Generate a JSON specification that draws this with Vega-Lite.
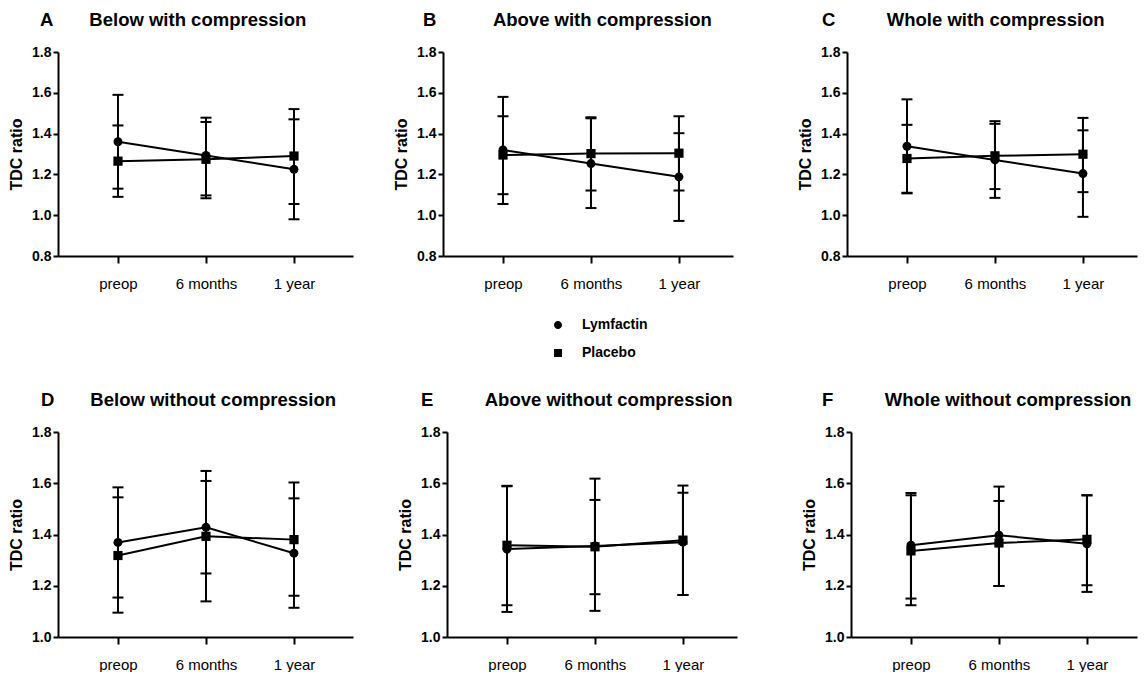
{
  "$schema": "https://vega.github.io/schema/vega-lite/v6.json",
  "background": "white",
  "padding": {"left": 8, "top": 10, "right": 3, "bottom": 0},
  "data": {"values": [
    {"panel":"A","series":"Lymfactin","time":"preop","mean":1.36,"lo":1.13,"hi":1.59},
    {"panel":"A","series":"Lymfactin","time":"6 months","mean":1.293,"lo":1.097,"hi":1.478},
    {"panel":"A","series":"Lymfactin","time":"1 year","mean":1.225,"lo":0.98,"hi":1.47},
    {"panel":"A","series":"Placebo","time":"preop","mean":1.265,"lo":1.09,"hi":1.44},
    {"panel":"A","series":"Placebo","time":"6 months","mean":1.274,"lo":1.083,"hi":1.457},
    {"panel":"A","series":"Placebo","time":"1 year","mean":1.29,"lo":1.055,"hi":1.52},
    {"panel":"B","series":"Lymfactin","time":"preop","mean":1.32,"lo":1.055,"hi":1.58},
    {"panel":"B","series":"Lymfactin","time":"6 months","mean":1.253,"lo":1.035,"hi":1.475},
    {"panel":"B","series":"Lymfactin","time":"1 year","mean":1.188,"lo":0.972,"hi":1.402},
    {"panel":"B","series":"Placebo","time":"preop","mean":1.295,"lo":1.103,"hi":1.485},
    {"panel":"B","series":"Placebo","time":"6 months","mean":1.302,"lo":1.121,"hi":1.48},
    {"panel":"B","series":"Placebo","time":"1 year","mean":1.304,"lo":1.121,"hi":1.485},
    {"panel":"C","series":"Lymfactin","time":"preop","mean":1.338,"lo":1.107,"hi":1.568},
    {"panel":"C","series":"Lymfactin","time":"6 months","mean":1.271,"lo":1.085,"hi":1.461},
    {"panel":"C","series":"Lymfactin","time":"1 year","mean":1.204,"lo":0.992,"hi":1.416},
    {"panel":"C","series":"Placebo","time":"preop","mean":1.278,"lo":1.11,"hi":1.443},
    {"panel":"C","series":"Placebo","time":"6 months","mean":1.291,"lo":1.128,"hi":1.448},
    {"panel":"C","series":"Placebo","time":"1 year","mean":1.299,"lo":1.113,"hi":1.477},
    {"panel":"D","series":"Lymfactin","time":"preop","mean":1.369,"lo":1.154,"hi":1.584},
    {"panel":"D","series":"Lymfactin","time":"6 months","mean":1.428,"lo":1.248,"hi":1.609},
    {"panel":"D","series":"Lymfactin","time":"1 year","mean":1.327,"lo":1.114,"hi":1.541},
    {"panel":"D","series":"Placebo","time":"preop","mean":1.318,"lo":1.095,"hi":1.545},
    {"panel":"D","series":"Placebo","time":"6 months","mean":1.393,"lo":1.139,"hi":1.648},
    {"panel":"D","series":"Placebo","time":"1 year","mean":1.38,"lo":1.161,"hi":1.603},
    {"panel":"E","series":"Lymfactin","time":"preop","mean":1.343,"lo":1.098,"hi":1.588},
    {"panel":"E","series":"Lymfactin","time":"6 months","mean":1.355,"lo":1.102,"hi":1.618},
    {"panel":"E","series":"Lymfactin","time":"1 year","mean":1.37,"lo":1.164,"hi":1.563},
    {"panel":"E","series":"Placebo","time":"preop","mean":1.358,"lo":1.124,"hi":1.59},
    {"panel":"E","series":"Placebo","time":"6 months","mean":1.352,"lo":1.167,"hi":1.535},
    {"panel":"E","series":"Placebo","time":"1 year","mean":1.378,"lo":1.164,"hi":1.591},
    {"panel":"F","series":"Lymfactin","time":"preop","mean":1.358,"lo":1.15,"hi":1.562},
    {"panel":"F","series":"Lymfactin","time":"6 months","mean":1.397,"lo":1.199,"hi":1.587},
    {"panel":"F","series":"Lymfactin","time":"1 year","mean":1.364,"lo":1.176,"hi":1.553},
    {"panel":"F","series":"Placebo","time":"preop","mean":1.336,"lo":1.124,"hi":1.553},
    {"panel":"F","series":"Placebo","time":"6 months","mean":1.367,"lo":1.199,"hi":1.531},
    {"panel":"F","series":"Placebo","time":"1 year","mean":1.381,"lo":1.202,"hi":1.553}
  ]},
  "config": {
    "view": {"stroke": null},
    "font": "Liberation Sans",
    "axis": {"grid": false, "domainColor": "black", "domainWidth": 2, "tickColor": "black", "tickWidth": 2, "labelColor": "black", "titleColor": "black", "labelFont": "Liberation Sans", "titleFont": "Liberation Sans"},
    "axisY": {"labelFontSize": 14, "labelFontWeight": "bold", "tickSize": 5, "labelPadding": 2, "titleFontSize": 16, "titleFontWeight": "bold", "titlePadding": 7},
    "axisX": {"labelFontSize": 15, "tickSize": 7, "labelPadding": 13, "labelAngle": 0},
    "title": {"fontSize": 18.5, "fontWeight": "bold", "anchor": "start", "frame": "group", "color": "black", "offset": 16, "font": "Liberation Sans"},
    "legend": {"labelFont": "Liberation Sans"}
  },
  "spacing": 99,
  "vconcat": [
    {"spacing": 40, "hconcat": [
      {"title": {"text": "A\u00a0\u00a0\u00a0\u00a0\u00a0\u00a0\u00a0Below with compression", "dx": -18},
       "width": 295, "height": 204,
       "transform": [{"filter": "datum.panel === 'A'"}],
       "encoding": {"x": {"field": "time", "type": "ordinal", "sort": ["preop","6 months","1 year"], "scale": {"type": "point", "padding": 0.676, "align": 0.504}, "axis": {"title": null}}},
       "layer": [
        {"transform": [{"filter": "false"}], "mark": {"type": "point", "filled": false, "fill": "black", "stroke": "black", "strokeWidth": 2, "opacity": 1, "size": 400}, "encoding": {"y": {"field": "mean", "type": "quantitative", "scale": {"domain": [0.8, 1.8]}, "axis": {"title": "TDC ratio", "values": [0.8,1.0,1.2,1.4,1.6,1.8], "format": ".1f"}}, "shape": {"field": "series", "type": "nominal", "scale": {"domain": ["Lymfactin","Placebo"], "range": ["M-1,0L1,0M-0.4,0A0.4,0.4 0 1,0 0.4,0A0.4,0.4 0 1,0 -0.4,0Z", "M-1,0L1,0M-0.4,-0.4L0.4,-0.4L0.4,0.4L-0.4,0.4Z"]}, "legend": {"title": null, "orient": "none", "legendX": 489, "legendY": 262, "labelFontSize": 14, "labelFontWeight": "bold", "labelColor": "black", "labelOffset": 13, "rowPadding": 9, "symbolSize": 400, "symbolStrokeWidth": 2, "symbolOpacity": 1, "symbolFillColor": "black", "symbolStrokeColor": "black"}}}},
        {"mark": {"type": "rule", "color": "black", "strokeWidth": 2}, "encoding": {"y": {"field": "lo", "type": "quantitative", "scale": {"domain": [0.8, 1.8]}, "axis": {"title": "TDC ratio", "values": [0.8,1.0,1.2,1.4,1.6,1.8], "format": ".1f"}}, "y2": {"field": "hi"}}},
        {"mark": {"type": "tick", "color": "black", "thickness": 2, "size": 11, "opacity": 1}, "encoding": {"y": {"field": "hi", "type": "quantitative", "scale": {"domain": [0.8, 1.8]}, "axis": {"title": "TDC ratio", "values": [0.8,1.0,1.2,1.4,1.6,1.8], "format": ".1f"}}}},
        {"mark": {"type": "tick", "color": "black", "thickness": 2, "size": 11, "opacity": 1}, "encoding": {"y": {"field": "lo", "type": "quantitative", "scale": {"domain": [0.8, 1.8]}, "axis": {"title": "TDC ratio", "values": [0.8,1.0,1.2,1.4,1.6,1.8], "format": ".1f"}}}},
        {"mark": {"type": "line", "color": "black", "strokeWidth": 2}, "encoding": {"y": {"field": "mean", "type": "quantitative", "scale": {"domain": [0.8, 1.8]}, "axis": {"title": "TDC ratio", "values": [0.8,1.0,1.2,1.4,1.6,1.8], "format": ".1f"}}, "detail": {"field": "series"}}},
        {"transform": [{"filter": "datum.series === 'Lymfactin'"}], "mark": {"type": "point", "shape": "circle", "filled": true, "color": "black", "opacity": 1, "size": 80}, "encoding": {"y": {"field": "mean", "type": "quantitative", "scale": {"domain": [0.8, 1.8]}, "axis": {"title": "TDC ratio", "values": [0.8,1.0,1.2,1.4,1.6,1.8], "format": ".1f"}}}},
        {"transform": [{"filter": "datum.series === 'Placebo'"}], "mark": {"type": "point", "shape": "square", "filled": true, "color": "black", "opacity": 1, "size": 85}, "encoding": {"y": {"field": "mean", "type": "quantitative", "scale": {"domain": [0.8, 1.8]}, "axis": {"title": "TDC ratio", "values": [0.8,1.0,1.2,1.4,1.6,1.8], "format": ".1f"}}}}
       ]},
      {"spacing": 64, "hconcat": [
        {"title": {"text": "B\u00a0\u00a0\u00a0\u00a0\u00a0\u00a0\u00a0\u00a0\u00a0\u00a0\u00a0Above with compression", "dx": -20},
         "width": 290, "height": 204,
         "transform": [{"filter": "datum.panel === 'B'"}],
         "encoding": {"x": {"field": "time", "type": "ordinal", "sort": ["preop","6 months","1 year"], "scale": {"type": "point", "padding": 0.648, "align": 0.526}, "axis": {"title": null}}},
         "layer": [
          {"mark": {"type": "rule", "color": "black", "strokeWidth": 2}, "encoding": {"y": {"field": "lo", "type": "quantitative", "scale": {"domain": [0.8, 1.8]}, "axis": {"title": "TDC ratio", "values": [0.8,1.0,1.2,1.4,1.6,1.8], "format": ".1f"}}, "y2": {"field": "hi"}}},
          {"mark": {"type": "tick", "color": "black", "thickness": 2, "size": 11, "opacity": 1}, "encoding": {"y": {"field": "hi", "type": "quantitative", "scale": {"domain": [0.8, 1.8]}, "axis": {"title": "TDC ratio", "values": [0.8,1.0,1.2,1.4,1.6,1.8], "format": ".1f"}}}},
          {"mark": {"type": "tick", "color": "black", "thickness": 2, "size": 11, "opacity": 1}, "encoding": {"y": {"field": "lo", "type": "quantitative", "scale": {"domain": [0.8, 1.8]}, "axis": {"title": "TDC ratio", "values": [0.8,1.0,1.2,1.4,1.6,1.8], "format": ".1f"}}}},
          {"mark": {"type": "line", "color": "black", "strokeWidth": 2}, "encoding": {"y": {"field": "mean", "type": "quantitative", "scale": {"domain": [0.8, 1.8]}, "axis": {"title": "TDC ratio", "values": [0.8,1.0,1.2,1.4,1.6,1.8], "format": ".1f"}}, "detail": {"field": "series"}}},
          {"transform": [{"filter": "datum.series === 'Lymfactin'"}], "mark": {"type": "point", "shape": "circle", "filled": true, "color": "black", "opacity": 1, "size": 80}, "encoding": {"y": {"field": "mean", "type": "quantitative", "scale": {"domain": [0.8, 1.8]}, "axis": {"title": "TDC ratio", "values": [0.8,1.0,1.2,1.4,1.6,1.8], "format": ".1f"}}}},
          {"transform": [{"filter": "datum.series === 'Placebo'"}], "mark": {"type": "point", "shape": "square", "filled": true, "color": "black", "opacity": 1, "size": 85}, "encoding": {"y": {"field": "mean", "type": "quantitative", "scale": {"domain": [0.8, 1.8]}, "axis": {"title": "TDC ratio", "values": [0.8,1.0,1.2,1.4,1.6,1.8], "format": ".1f"}}}}
         ]},
        {"title": {"text": "C\u00a0\u00a0\u00a0\u00a0\u00a0\u00a0\u00a0\u00a0\u00a0\u00a0Whole with compression", "dx": -25},
         "width": 290, "height": 204,
         "transform": [{"filter": "datum.panel === 'C'"}],
         "encoding": {"x": {"field": "time", "type": "ordinal", "sort": ["preop","6 months","1 year"], "scale": {"type": "point", "padding": 0.648, "align": 0.526}, "axis": {"title": null}}},
         "layer": [
          {"mark": {"type": "rule", "color": "black", "strokeWidth": 2}, "encoding": {"y": {"field": "lo", "type": "quantitative", "scale": {"domain": [0.8, 1.8]}, "axis": {"title": "TDC ratio", "values": [0.8,1.0,1.2,1.4,1.6,1.8], "format": ".1f"}}, "y2": {"field": "hi"}}},
          {"mark": {"type": "tick", "color": "black", "thickness": 2, "size": 11, "opacity": 1}, "encoding": {"y": {"field": "hi", "type": "quantitative", "scale": {"domain": [0.8, 1.8]}, "axis": {"title": "TDC ratio", "values": [0.8,1.0,1.2,1.4,1.6,1.8], "format": ".1f"}}}},
          {"mark": {"type": "tick", "color": "black", "thickness": 2, "size": 11, "opacity": 1}, "encoding": {"y": {"field": "lo", "type": "quantitative", "scale": {"domain": [0.8, 1.8]}, "axis": {"title": "TDC ratio", "values": [0.8,1.0,1.2,1.4,1.6,1.8], "format": ".1f"}}}},
          {"mark": {"type": "line", "color": "black", "strokeWidth": 2}, "encoding": {"y": {"field": "mean", "type": "quantitative", "scale": {"domain": [0.8, 1.8]}, "axis": {"title": "TDC ratio", "values": [0.8,1.0,1.2,1.4,1.6,1.8], "format": ".1f"}}, "detail": {"field": "series"}}},
          {"transform": [{"filter": "datum.series === 'Lymfactin'"}], "mark": {"type": "point", "shape": "circle", "filled": true, "color": "black", "opacity": 1, "size": 80}, "encoding": {"y": {"field": "mean", "type": "quantitative", "scale": {"domain": [0.8, 1.8]}, "axis": {"title": "TDC ratio", "values": [0.8,1.0,1.2,1.4,1.6,1.8], "format": ".1f"}}}},
          {"transform": [{"filter": "datum.series === 'Placebo'"}], "mark": {"type": "point", "shape": "square", "filled": true, "color": "black", "opacity": 1, "size": 85}, "encoding": {"y": {"field": "mean", "type": "quantitative", "scale": {"domain": [0.8, 1.8]}, "axis": {"title": "TDC ratio", "values": [0.8,1.0,1.2,1.4,1.6,1.8], "format": ".1f"}}}}
         ]}
      ]}
    ]},
    {"spacing": 44, "hconcat": [
      {"title": {"text": "D\u00a0\u00a0\u00a0\u00a0\u00a0\u00a0\u00a0Below without compression", "dx": -17},
       "width": 295, "height": 205,
       "transform": [{"filter": "datum.panel === 'D'"}],
       "encoding": {"x": {"field": "time", "type": "ordinal", "sort": ["preop","6 months","1 year"], "scale": {"type": "point", "padding": 0.676, "align": 0.504}, "axis": {"title": null}}},
       "layer": [
        {"mark": {"type": "rule", "color": "black", "strokeWidth": 2}, "encoding": {"y": {"field": "lo", "type": "quantitative", "scale": {"domain": [1.0, 1.8]}, "axis": {"title": "TDC ratio", "values": [1.0,1.2,1.4,1.6,1.8], "format": ".1f"}}, "y2": {"field": "hi"}}},
        {"mark": {"type": "tick", "color": "black", "thickness": 2, "size": 11, "opacity": 1}, "encoding": {"y": {"field": "hi", "type": "quantitative", "scale": {"domain": [1.0, 1.8]}, "axis": {"title": "TDC ratio", "values": [1.0,1.2,1.4,1.6,1.8], "format": ".1f"}}}},
        {"mark": {"type": "tick", "color": "black", "thickness": 2, "size": 11, "opacity": 1}, "encoding": {"y": {"field": "lo", "type": "quantitative", "scale": {"domain": [1.0, 1.8]}, "axis": {"title": "TDC ratio", "values": [1.0,1.2,1.4,1.6,1.8], "format": ".1f"}}}},
        {"mark": {"type": "line", "color": "black", "strokeWidth": 2}, "encoding": {"y": {"field": "mean", "type": "quantitative", "scale": {"domain": [1.0, 1.8]}, "axis": {"title": "TDC ratio", "values": [1.0,1.2,1.4,1.6,1.8], "format": ".1f"}}, "detail": {"field": "series"}}},
        {"transform": [{"filter": "datum.series === 'Lymfactin'"}], "mark": {"type": "point", "shape": "circle", "filled": true, "color": "black", "opacity": 1, "size": 80}, "encoding": {"y": {"field": "mean", "type": "quantitative", "scale": {"domain": [1.0, 1.8]}, "axis": {"title": "TDC ratio", "values": [1.0,1.2,1.4,1.6,1.8], "format": ".1f"}}}},
        {"transform": [{"filter": "datum.series === 'Placebo'"}], "mark": {"type": "point", "shape": "square", "filled": true, "color": "black", "opacity": 1, "size": 85}, "encoding": {"y": {"field": "mean", "type": "quantitative", "scale": {"domain": [1.0, 1.8]}, "axis": {"title": "TDC ratio", "values": [1.0,1.2,1.4,1.6,1.8], "format": ".1f"}}}}
       ]},
      {"spacing": 64, "hconcat": [
        {"title": {"text": "E\u00a0\u00a0\u00a0\u00a0\u00a0\u00a0\u00a0\u00a0\u00a0\u00a0Above without compression", "dx": -26},
         "width": 290, "height": 205,
         "transform": [{"filter": "datum.panel === 'E'"}],
         "encoding": {"x": {"field": "time", "type": "ordinal", "sort": ["preop","6 months","1 year"], "scale": {"type": "point", "padding": 0.648, "align": 0.526}, "axis": {"title": null}}},
         "layer": [
          {"mark": {"type": "rule", "color": "black", "strokeWidth": 2}, "encoding": {"y": {"field": "lo", "type": "quantitative", "scale": {"domain": [1.0, 1.8]}, "axis": {"title": "TDC ratio", "values": [1.0,1.2,1.4,1.6,1.8], "format": ".1f"}}, "y2": {"field": "hi"}}},
          {"mark": {"type": "tick", "color": "black", "thickness": 2, "size": 11, "opacity": 1}, "encoding": {"y": {"field": "hi", "type": "quantitative", "scale": {"domain": [1.0, 1.8]}, "axis": {"title": "TDC ratio", "values": [1.0,1.2,1.4,1.6,1.8], "format": ".1f"}}}},
          {"mark": {"type": "tick", "color": "black", "thickness": 2, "size": 11, "opacity": 1}, "encoding": {"y": {"field": "lo", "type": "quantitative", "scale": {"domain": [1.0, 1.8]}, "axis": {"title": "TDC ratio", "values": [1.0,1.2,1.4,1.6,1.8], "format": ".1f"}}}},
          {"mark": {"type": "line", "color": "black", "strokeWidth": 2}, "encoding": {"y": {"field": "mean", "type": "quantitative", "scale": {"domain": [1.0, 1.8]}, "axis": {"title": "TDC ratio", "values": [1.0,1.2,1.4,1.6,1.8], "format": ".1f"}}, "detail": {"field": "series"}}},
          {"transform": [{"filter": "datum.series === 'Lymfactin'"}], "mark": {"type": "point", "shape": "circle", "filled": true, "color": "black", "opacity": 1, "size": 80}, "encoding": {"y": {"field": "mean", "type": "quantitative", "scale": {"domain": [1.0, 1.8]}, "axis": {"title": "TDC ratio", "values": [1.0,1.2,1.4,1.6,1.8], "format": ".1f"}}}},
          {"transform": [{"filter": "datum.series === 'Placebo'"}], "mark": {"type": "point", "shape": "square", "filled": true, "color": "black", "opacity": 1, "size": 85}, "encoding": {"y": {"field": "mean", "type": "quantitative", "scale": {"domain": [1.0, 1.8]}, "axis": {"title": "TDC ratio", "values": [1.0,1.2,1.4,1.6,1.8], "format": ".1f"}}}}
         ]},
        {"title": {"text": "F\u00a0\u00a0\u00a0\u00a0\u00a0\u00a0\u00a0\u00a0\u00a0\u00a0Whole without compression", "dx": -29},
         "width": 286, "height": 205,
         "transform": [{"filter": "datum.panel === 'F'"}],
         "encoding": {"x": {"field": "time", "type": "ordinal", "sort": ["preop","6 months","1 year"], "scale": {"type": "point", "padding": 0.625, "align": 0.545}, "axis": {"title": null}}},
         "layer": [
          {"mark": {"type": "rule", "color": "black", "strokeWidth": 2}, "encoding": {"y": {"field": "lo", "type": "quantitative", "scale": {"domain": [1.0, 1.8]}, "axis": {"title": "TDC ratio", "values": [1.0,1.2,1.4,1.6,1.8], "format": ".1f"}}, "y2": {"field": "hi"}}},
          {"mark": {"type": "tick", "color": "black", "thickness": 2, "size": 11, "opacity": 1}, "encoding": {"y": {"field": "hi", "type": "quantitative", "scale": {"domain": [1.0, 1.8]}, "axis": {"title": "TDC ratio", "values": [1.0,1.2,1.4,1.6,1.8], "format": ".1f"}}}},
          {"mark": {"type": "tick", "color": "black", "thickness": 2, "size": 11, "opacity": 1}, "encoding": {"y": {"field": "lo", "type": "quantitative", "scale": {"domain": [1.0, 1.8]}, "axis": {"title": "TDC ratio", "values": [1.0,1.2,1.4,1.6,1.8], "format": ".1f"}}}},
          {"mark": {"type": "line", "color": "black", "strokeWidth": 2}, "encoding": {"y": {"field": "mean", "type": "quantitative", "scale": {"domain": [1.0, 1.8]}, "axis": {"title": "TDC ratio", "values": [1.0,1.2,1.4,1.6,1.8], "format": ".1f"}}, "detail": {"field": "series"}}},
          {"transform": [{"filter": "datum.series === 'Lymfactin'"}], "mark": {"type": "point", "shape": "circle", "filled": true, "color": "black", "opacity": 1, "size": 80}, "encoding": {"y": {"field": "mean", "type": "quantitative", "scale": {"domain": [1.0, 1.8]}, "axis": {"title": "TDC ratio", "values": [1.0,1.2,1.4,1.6,1.8], "format": ".1f"}}}},
          {"transform": [{"filter": "datum.series === 'Placebo'"}], "mark": {"type": "point", "shape": "square", "filled": true, "color": "black", "opacity": 1, "size": 85}, "encoding": {"y": {"field": "mean", "type": "quantitative", "scale": {"domain": [1.0, 1.8]}, "axis": {"title": "TDC ratio", "values": [1.0,1.2,1.4,1.6,1.8], "format": ".1f"}}}}
         ]}
      ]}
    ]}
  ]
}
